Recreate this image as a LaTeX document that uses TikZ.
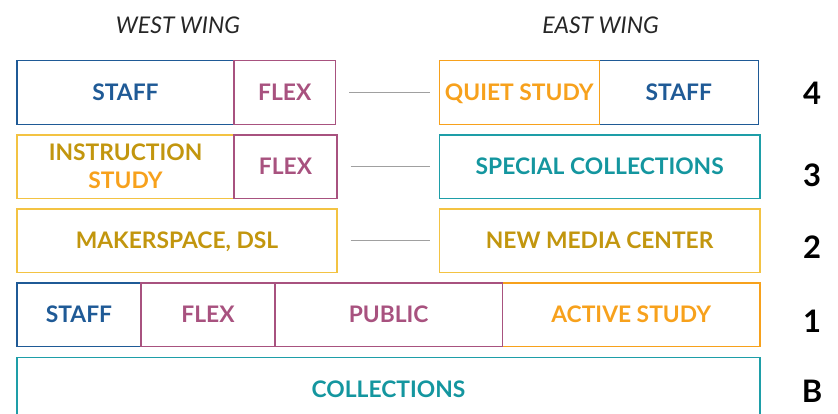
\documentclass[tikz,border=0pt]{standalone}
\usepackage{fontspec}
\setmainfont{Lato}
\definecolor{cblue}{RGB}{31,90,150}
\definecolor{cplum}{RGB}{168,82,127}
\definecolor{cgold}{RGB}{194,150,14}
\definecolor{cyellow}{RGB}{243,195,67}
\definecolor{corange}{RGB}{247,161,28}
\definecolor{cteal}{RGB}{20,150,159}
\definecolor{ctealb}{RGB}{30,158,168}
\definecolor{cgray}{RGB}{160,160,160}
\tikzset{
  roombase/.style={draw, line width=1.5pt, inner sep=0pt, outer sep=0pt,
    font=\fontsize{22.8}{28}\selectfont\bfseries, align=center},
  room/.style={roombase, text height=16.3pt, text depth=0pt},
  rblue/.style={room, draw=cblue, text=cblue},
  rplum/.style={room, draw=cplum, text=cplum},
  ryellow/.style={room, draw=cyellow, text=cgold},
  rorange/.style={room, draw=corange, text=corange},
  rteal/.style={room, draw=ctealb, text=cteal},
  link/.style={draw=cgray, line width=1.2pt, shorten <=13.5pt, shorten >=9.5pt},
  wing/.style={font=\fontsize{23}{26}\selectfont\itshape, text=black!85},
  level/.style={font=\fontsize{31}{33}\selectfont\bfseries, text=black},
}
\begin{document}
\begin{tikzpicture}[x=1pt,y=-1pt]
\useasboundingbox (0,0) rectangle (838,414);
% headers
\node[wing] (hw) at (178,25) {WEST WING};
\node[wing] (he) at (600.5,25) {EAST WING};
% row 4
\node[rblue, minimum width=217pt, minimum height=63.6pt] (w4s) at (125.5,92.5) {STAFF};
\node[rplum, minimum width=101.5pt, minimum height=63.6pt] (w4f) at (284.75,92.5) {FLEX};
\node[rblue, minimum width=159pt, minimum height=63.6pt] (e4s) at (678.8,92.5) {STAFF};
\node[rorange, minimum width=160pt, minimum height=63.6pt] (e4q) at (519.3,92.5) {QUIET STUDY};
% row 3
\node[roombase, draw=cyellow, text=cgold, minimum width=217pt, minimum height=63.3pt] (w3i) at (125.5,166.7) {INSTRUCTION\\\textcolor{corange}{STUDY}};
\node[rplum, minimum width=103pt, minimum height=63.3pt] (w3f) at (285.5,166.7) {FLEX};
\node[rteal, minimum width=320.7pt, minimum height=63.3pt] (e3s) at (599.65,166.7) {SPECIAL COLLECTIONS};
% row 2
\node[ryellow, minimum width=320pt, minimum height=63.7pt] (w2m) at (177,240.8) {MAKERSPACE, DSL};
\node[ryellow, minimum width=320.7pt, minimum height=63.7pt] (e2n) at (599.65,240.8) {NEW MEDIA CENTER};
% row 1
\node[rblue, minimum width=124pt, minimum height=63.7pt] (s1) at (79,314.8) {STAFF};
\node[rorange, minimum width=257.7pt, minimum height=63.7pt] (a1) at (631.15,314.8) {ACTIVE STUDY};
\node[rplum, minimum width=134pt, minimum height=63.7pt] (f1) at (208,314.8) {FLEX};
\node[rplum, minimum width=227.3pt, minimum height=63.7pt] (p1) at (388.65,314.8) {PUBLIC};
% basement
\node[rteal, minimum width=743pt, minimum height=63.7pt] (b) at (388.5,389.2) {COLLECTIONS};
% links
\draw[link] (w4f.east) -- (e4q.west);
\draw[link] (w3f.east) -- (e3s.west);
\draw[link] (w2m.east) -- (e2n.west);
% levels
\node[level] (l4) at (812,93.5) {4};
\node[level] (l3) at (812,175) {3};
\node[level] (l2) at (812,247.5) {2};
\node[level] (l1) at (812,321) {1};
\node[level] (lb) at (812,391) {B};
\end{tikzpicture}
\end{document}
